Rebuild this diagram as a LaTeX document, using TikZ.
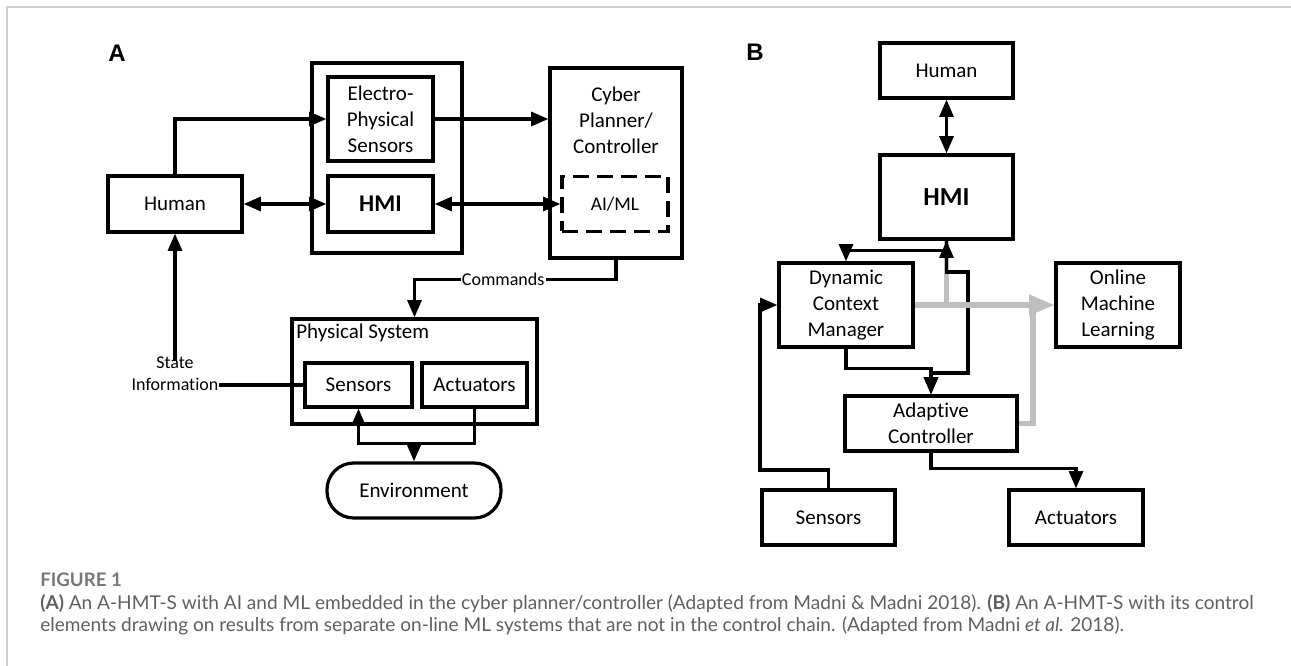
\documentclass[tikz,border=0pt]{standalone}
\usepackage{fontspec}
\setmainfont{Carlito}[Ligatures=NoCommon]
\newfontfamily\capfont{Lato}
\newfontfamily\panelfont{Liberation Sans}
\usetikzlibrary{arrows.meta,positioning}
\definecolor{mlgray}{RGB}{191,191,191}
\definecolor{capgray}{RGB}{95,95,95}
\definecolor{framegray}{RGB}{206,206,206}

\begin{document}
\begin{tikzpicture}[x=0.75pt,y=-0.75pt,
  txt/.style={align=center, inner sep=0pt, font=\fontsize{15.75}{19.5}\selectfont},
  box/.style={txt, draw, line width=2.4pt, rectangle},
  wh/.style 2 args={minimum width=#1*0.75pt, minimum height=#2*0.75pt},
  small/.style={align=center, inner sep=0pt, font=\fontsize{13.5}{16.5}\selectfont},
  hmifont/.style={font=\fontsize{#1}{#1}\selectfont\bfseries},
  panel/.style={font=\fontsize{18}{18}\selectfont\panelfont\bfseries},
  link/.style={line width=2.4pt},
  arr/.style={link, -{Triangle[length=13pt,width=10.5pt]}},
  darr/.style={link, {Triangle[length=13pt,width=10.5pt]}-{Triangle[length=13pt,width=10.5pt]}},
  mlink/.style={line width=3.8pt, mlgray},
  captxt/.style={anchor=west, inner sep=0pt, text=capgray, font=\fontsize{14.3}{17}\selectfont\capfont}]
 \useasboundingbox (0,0) rectangle (1291,666);
 \draw[framegray, line width=1.2pt] (7,666) -- (7,7) -- (1291,7);

 % panel A
 \node[panel] (labA) at (117,53) {A};
 \node[box, wh={150}{190}] (hub) at (387,158) {};
 \node[box, wh={105}{84}] (eps) at (380.5,119) {Electro-\\Physical\\Sensors};
 \node[box, wh={105}{56}, hmifont=18] (hmiA) at (380.5,204) {HMI};
 \node[box, wh={134}{56}] (humA) at (175,204) {Human};
 \node[box, wh={132}{190}] (cyber) at (616,163) {};
 \node[txt] (cybtxt) at (616,120) {Cyber\\Planner/\\Controller};
 \node[box, wh={106}{55}, dash pattern=on 12pt off 6pt, font=\fontsize{14.5}{16}\selectfont] (aiml) at (615,204) {AI/ML};
 \node[box, wh={245}{105}] (physys) at (414.5,371.5) {};
 \node[txt, anchor=west] (physlbl) at (296,333) {Physical System};
 \node[box, wh={107}{44}] (senA) at (358.5,385) {Sensors};
 \node[box, wh={105}{44}] (actA) at (474.5,385) {Actuators};
 \node[box, wh={174}{55}, rounded corners=20pt] (env) at (414,490.5) {Environment};
 \node[small] (stinfo) at (175,374) {State\\Information};
 \coordinate (envin) at (414,442);

 \draw[arr] (humA.north) |- (eps.west);
 \draw[darr] (humA.east) -- (hmiA.west);
 \draw[arr] (eps.east) -- (eps.east -| cyber.west);
 \draw[darr] (hmiA.east) -- (aiml.west);
 \draw[arr] (cyber.south) -- ++(0,20) -| node[pos=0.28, small, fill=white, inner xsep=1pt] (cmd) {Commands} (physys.north);
 \draw[arr] ([yshift=-3pt]stinfo.north) -- (humA.south);
 \draw[link] (stinfo.east |- senA.west) -- (senA.west);
 \draw[arr] (actA.south) -- ++(0,35) -| (senA.south);
 \draw[arr] (envin) -- (env.north);

 % panel B
 \node[panel] (labB) at (755,52) {B};
 \node[box, wh={133}{55}] (humB) at (946.5,70.5) {Human};
 \node[box, wh={133}{84}, hmifont=19.5] (hmiB) at (946.5,197) {HMI};
 \node[box, wh={134}{84}] (dcm) at (846,305) {Dynamic\\Context\\Manager};
 \node[box, wh={124}{84}] (oml) at (1118,305) {Online\\Machine\\Learning};
 \node[box, wh={172}{55}] (adc) at (931,423.5) {Adaptive\\Controller};
 \node[box, wh={133}{55}] (senB) at (828.5,517.5) {Sensors};
 \node[box, wh={134}{55}] (actB) at (1076,517.5) {Actuators};
 \coordinate (kb1) at (968,272);
 \coordinate (kb2) at (968,373);
 \coordinate (sb) at (760,470);
 \coordinate (mlj) at (1033,305);

 \draw[darr] (humB.south) -- (hmiB.north);
 \draw[mlink] (hmiB.south) -- (hmiB.south |- dcm.east);
 \draw[arr] (hmiB.south) -- ++(0,10) -| (dcm.north);
 \draw[darr] (hmiB.south) |- (kb1) -- (kb2) -| (adc.north);
 \draw[arr] (dcm.south) -- ++(0,20) -| (adc.north);
 \draw[arr] (senB.north) |- (sb) |- (dcm.west);
 \draw[arr] (adc.south) -- ++(0,16) -| (actB.north);
 \draw[mlink, -{Triangle[length=19pt,width=15pt]}] (dcm.east) -- (oml.west);
 \draw[mlink] (adc.east) -| (mlj);

 % caption
 \node[captxt, font=\fontsize{14}{16}\selectfont\capfont\bfseries, text=capgray!85] (fig) at (40,580) {FIGURE 1};
 \node[captxt] (cap1) at (40,604) {\textbf{(A)} An A-HMT-S with AI and ML embedded in the cyber planner/controller (Adapted from Madni \& Madni 2018). \textbf{(B)} An A-HMT-S with its control};
 \node[captxt] (cap2) at (40,626) {elements drawing on results from separate on-line ML systems that are not in the control chain. (Adapted from Madni \textit{et al.} 2018).};
\end{tikzpicture}
\end{document}
